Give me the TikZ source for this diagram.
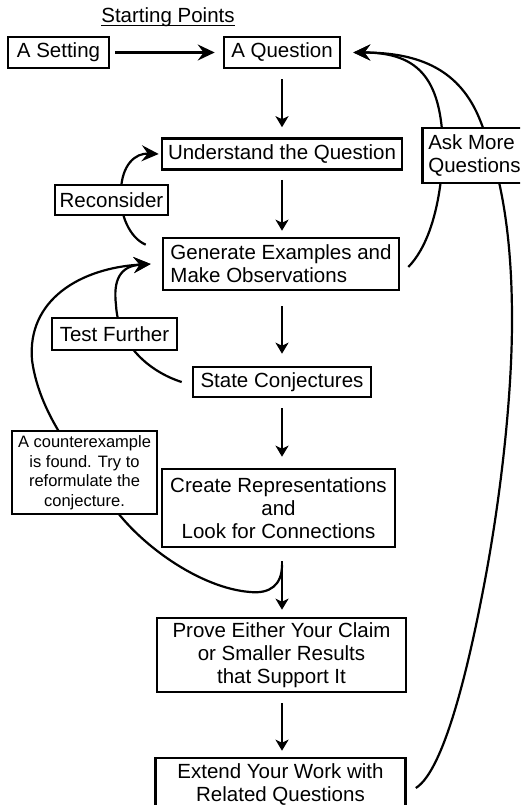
\documentclass[tikz,border=0pt]{standalone}
\usepackage{fontspec}
\setmainfont{Liberation Sans}
\usetikzlibrary{arrows.meta,backgrounds,calc}
\begin{document}
\begin{tikzpicture}[x=1pt,y=-1pt,
  box/.style={draw,line width=2.6pt,fill=white,inner sep=0pt,
    font=\fontsize{20.5}{23}\selectfont,align=center},
  conn/.style={line width=2.2pt},
  arr/.style={conn,-{Stealth[length=11pt,width=13pt,inset=3pt]}},
  bigarr/.style={conn,-{Stealth[length=17pt,width=16pt,inset=6pt]}}]
\useasboundingbox (0,0) rectangle (520,805);
\clip (0,0) rectangle (520,805);

\node[font=\fontsize{20.5}{23}\selectfont,anchor=base,inner sep=0pt] (start) at (168,23) {Starting Points};
\draw[line width=1.3pt] ([yshift=-2.5pt]start.base west) -- ([yshift=-2.5pt]start.base east);

\node[box,minimum width=101pt,minimum height=31pt] (setting) at (58.5,52.5) {A Setting};
\node[box,minimum width=116pt,minimum height=31pt] (question) at (282,52.5) {A Question};
\node[box,minimum width=240pt,minimum height=31pt] (understand) at (282,154) {Understand the Question};
\node[box,minimum width=236pt,minimum height=52pt,align=left] (generate) at (281,264) {Generate Examples and\\Make Observations};
\node[box,minimum width=178pt,minimum height=30pt] (state) at (282,382) {State Conjectures};
\node[box,minimum width=233pt,minimum height=78pt] (create) at (278.5,508) {Create Representations\\and\\Look for Connections};
\node[box,minimum width=249pt,minimum height=74pt] (prove) at (281.5,655) {Prove Either Your Claim\\or Smaller Results\\that Support It};
\node[box,minimum width=250pt,minimum height=54pt] (extend) at (280.5,785) {Extend Your Work with\\Related Questions};

\node[box,minimum width=113pt,minimum height=30pt] (recon) at (111.5,200) {Reconsider};
\node[box,inner xsep=6pt,minimum height=55pt,align=left,anchor=west] (ask) at (421,155.5) {Ask More\\Questions};
\node[box,minimum width=125pt,minimum height=32pt] (test) at (114.5,334) {Test Further};
\node[box,minimum width=145pt,minimum height=83pt,font=\fontsize{16.5}{19.5}\selectfont] (counter) at (84.5,472.5) {A counterexample\\is found. Try to\\reformulate the\\conjecture.};

% straight arrows
\draw[bigarr] ([xshift=5pt]setting.east) -- ([xshift=-8pt]question.west);
\draw[arr,shorten <=10pt,shorten >=10pt] (question.south) -- (question.south |- understand.north);
\draw[arr,shorten <=9pt,shorten >=6pt] (understand.south) -- (understand.south |- generate.north);
\draw[arr,shorten <=15pt,shorten >=12pt] (state.north |- generate.south) -- (state.north);
\draw[arr,shorten <=10pt,shorten >=11pt] (state.south) -- (state.south |- create.north);
\draw[arr,shorten <=13pt,shorten >=7pt] (state.south |- create.south) -- (state.south |- prove.north);
\draw[arr,shorten <=10pt,shorten >=6pt] (state.south |- prove.south) -- (state.south |- extend.north);

\begin{scope}[on background layer]
  \coordinate (r0) at ([xshift=-16pt,yshift=-8pt]generate.north west);
  \draw[bigarr] (r0) .. controls (130,238) and (119,215) .. (121,190)
     .. controls (122,165) and (135,153) .. ([xshift=-2pt]understand.west);
  \draw[bigarr] ([xshift=8pt,yshift=-3pt]generate.east) .. controls (425,250) and (440,215) .. (443,155)
     .. controls (443,80) and (420,52.5) .. ([xshift=12pt]question.east);
  \draw[bigarr] ([xshift=9pt,yshift=-3pt]extend.east) .. controls (445,770) and (470,660) .. (485,580)
     .. controls (500,500) and (512,400) .. (512,320)
     .. controls (512,230) and (500,170) .. (480,120)
     .. controls (460,70) and (420,52.5) .. ([xshift=12pt]question.east);
  \draw[bigarr] ([xshift=-10pt]state.west) .. controls (150,372) and (118,345) .. (116,305)
     .. controls (113,280) and (120,266) .. ([xshift=-11pt]generate.west);
  \coordinate (cx) at (282,565);
  \draw[bigarr] (cx) .. controls (282,585) and (270,594) .. (250,592)
     .. controls (200,588) and (140,545) .. (112,505)
     .. controls (85,468) and (40,420) .. (32,360)
     .. controls (27,300) and (80,268) .. ([xshift=-11pt]generate.west);
\end{scope}
\end{tikzpicture}
\end{document}
